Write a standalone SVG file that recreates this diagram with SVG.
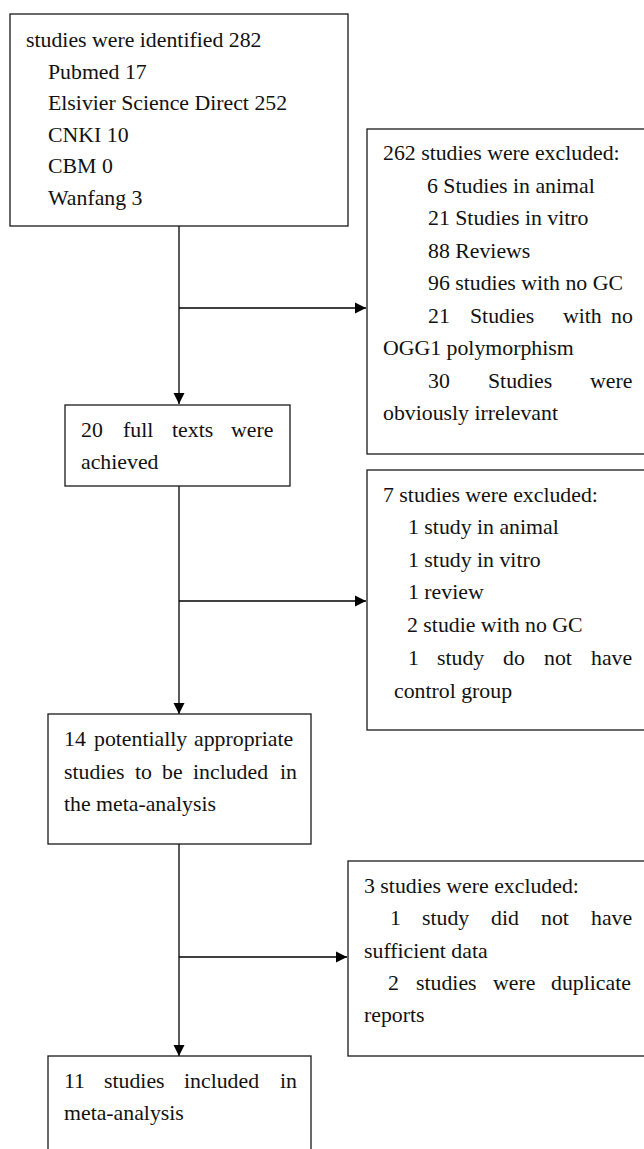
<svg xmlns="http://www.w3.org/2000/svg" width="644" height="1149" viewBox="0 0 644 1149">
<style>
.box{fill:#fff;stroke:#1a1a1a;stroke-width:1.3}
.t{font-family:"Liberation Serif","Times New Roman",Times,serif;font-size:21.8px;fill:#111}
.c{stroke:#000;stroke-width:1.3;fill:none}
</style>
<defs>
<marker id="ah" markerUnits="userSpaceOnUse" markerWidth="12" markerHeight="12" refX="11" refY="6" orient="auto">
<path d="M0,0.5 L11,6 L0,11.5 Z" fill="#000"/>
</marker>
</defs>
<g id="connectors">
<line class="c" x1="179" y1="226" x2="179" y2="404" marker-end="url(#ah)"/>
<line class="c" x1="179" y1="308" x2="366" y2="308" marker-end="url(#ah)"/>
<line class="c" x1="179" y1="486" x2="179" y2="714" marker-end="url(#ah)"/>
<line class="c" x1="179" y1="601" x2="366" y2="601" marker-end="url(#ah)"/>
<line class="c" x1="179" y1="844" x2="179" y2="1056" marker-end="url(#ah)"/>
<line class="c" x1="179" y1="957" x2="347" y2="957" marker-end="url(#ah)"/>
</g>
<g id="node-identified">
<rect class="box" x="10" y="14" width="338" height="212"/>
<text class="t" x="26" y="47">studies were identified 282</text>
<text class="t" x="48" y="79">Pubmed 17</text>
<text class="t" x="48" y="110">Elsivier Science Direct 252</text>
<text class="t" x="48" y="142">CNKI 10</text>
<text class="t" x="48" y="173">CBM 0</text>
<text class="t" x="48" y="205">Wanfang 3</text>
</g>
<g id="node-excluded1">
<rect class="box" x="367" y="129" width="290" height="325"/>
<text class="t" x="383" y="160">262 studies were excluded:</text>
<text class="t" x="427" y="192.5">6 Studies in animal</text>
<text class="t" x="428" y="225">21 Studies in vitro</text>
<text class="t" x="428" y="257.5">88 Reviews</text>
<text class="t" x="428" y="290">96 studies with no GC</text>
<text class="t" y="322.5"><tspan x="428">21</tspan><tspan x="470">Studies</tspan><tspan x="563">with</tspan><tspan x="611">no</tspan></text>
<text class="t" x="383" y="355">OGG1 polymorphism</text>
<text class="t" y="387.5"><tspan x="428">30</tspan><tspan x="488">Studies</tspan><tspan x="590">were</tspan></text>
<text class="t" x="383" y="420">obviously irrelevant</text>
</g>
<g id="node-fulltexts">
<rect class="box" x="65" y="405" width="225" height="81"/>
<text class="t" y="437"><tspan x="81">20</tspan><tspan x="123">full</tspan><tspan x="172">texts</tspan><tspan x="231">were</tspan></text>
<text class="t" x="81" y="469">achieved</text>
</g>
<g id="node-excluded2">
<rect class="box" x="367" y="470" width="290" height="260"/>
<text class="t" x="383" y="502">7 studies were excluded:</text>
<text class="t" x="408" y="534">1 study in animal</text>
<text class="t" x="408" y="567">1 study in vitro</text>
<text class="t" x="408" y="599">1 review</text>
<text class="t" x="407" y="632">2 studie with no GC</text>
<text class="t" y="665"><tspan x="408">1</tspan><tspan x="437">study</tspan><tspan x="503">do</tspan><tspan x="544">not</tspan><tspan x="591">have</tspan></text>
<text class="t" x="394" y="698">control group</text>
</g>
<g id="node-potential">
<rect class="box" x="48" y="714" width="263" height="130"/>
<text class="t" y="746"><tspan x="64">14</tspan><tspan x="94">potentially</tspan><tspan x="194">appropriate</tspan></text>
<text class="t" y="779"><tspan x="64">studies</tspan><tspan x="135">to</tspan><tspan x="162">be</tspan><tspan x="193">included</tspan><tspan x="280">in</tspan></text>
<text class="t" x="64" y="811">the meta-analysis</text>
</g>
<g id="node-excluded3">
<rect class="box" x="348" y="861" width="310" height="195"/>
<text class="t" x="364" y="893">3 studies were excluded:</text>
<text class="t" y="925"><tspan x="390">1</tspan><tspan x="422">study</tspan><tspan x="491">did</tspan><tspan x="541">not</tspan><tspan x="591">have</tspan></text>
<text class="t" x="364" y="958">sufficient data</text>
<text class="t" y="990"><tspan x="388">2</tspan><tspan x="416">studies</tspan><tspan x="493">were</tspan><tspan x="551">duplicate</tspan></text>
<text class="t" x="364" y="1022">reports</text>
</g>
<g id="node-included">
<rect class="box" x="48" y="1056" width="263" height="110"/>
<text class="t" y="1088"><tspan x="64">11</tspan><tspan x="104">studies</tspan><tspan x="184">included</tspan><tspan x="280">in</tspan></text>
<text class="t" x="64" y="1120">meta-analysis</text>
</g>
</svg>
